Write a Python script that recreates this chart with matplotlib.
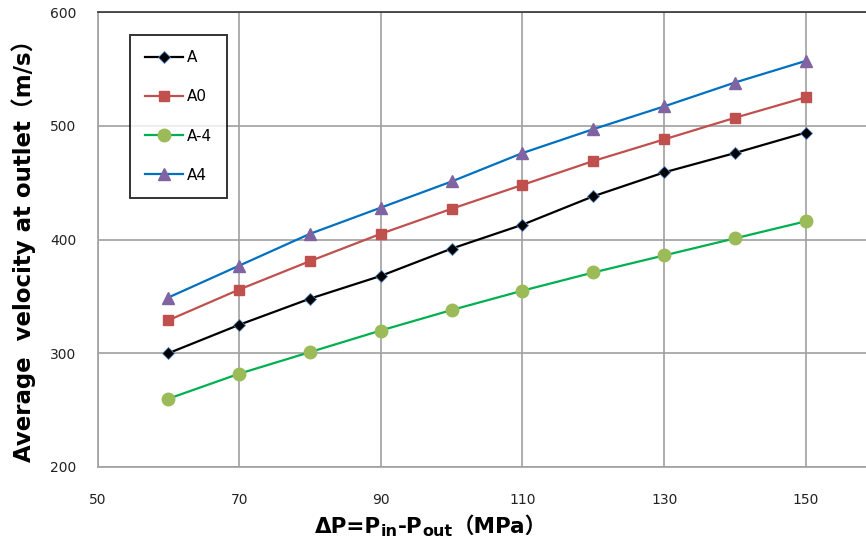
import matplotlib
matplotlib.use("Agg")
import matplotlib.pyplot as plt

pressure = [60, 70, 80, 90, 100, 110, 120, 130, 140, 150]
vel_A = [300, 325, 348, 368, 392, 413, 438, 459, 476, 494]
vel_A0 = [329, 356, 381, 405, 427, 448, 469, 488, 507, 525]
vel_Am4 = [260, 282, 301, 320, 338, 355, 371, 386, 401, 416]
vel_A4 = [349, 377, 405, 428, 451, 476, 497, 517, 538, 557]
labels = ["A", "A0", "A-4", "A4"]
xticks = [50, 70, 90, 110, 130, 150]
yticks = [200, 300, 400, 500, 600]

FAM = ["DejaVu Sans", "Noto Sans CJK SC"]
plt.rcParams["font.family"] = FAM

fig = plt.figure(figsize=(8.66, 5.42), dpi=100)
ax = fig.add_axes([97.5 / 866, 1 - 467 / 542, 1 - 97.5 / 866 + 0.001, (467 - 12) / 542])

ax.plot(pressure, vel_A, color="black", lw=1.6, marker="D", ms=6,
        mfc="black", mec="#4F81BD", mew=0.6, label=labels[0], zorder=4)
ax.plot(pressure, vel_A0, color="#C0504D", lw=1.6, marker="s", ms=7.5,
        mfc="#C0504D", mec="#C0504D", label=labels[1], zorder=4)
ax.plot(pressure, vel_Am4, color="#00B050", lw=1.6, marker="o", ms=9,
        mfc="#9BBB59", mec="#9BBB59", label=labels[2], zorder=4)
ax.plot(pressure, vel_A4, color="#0070C0", lw=1.6, marker="^", ms=9,
        mfc="#8064A2", mec="#8064A2", label=labels[3], zorder=4)

ax.set_xlim(50, 50 + (866 - 97.5) / 7.075)
ax.set_ylim(200, 600)
ax.set_xticks(xticks)
ax.set_yticks(yticks)
ax.grid(True, color="#A0A0A0", lw=1.2)
ax.set_axisbelow(True)
ax.tick_params(length=0, labelsize=10, colors="#222222")
ax.tick_params(axis="x", pad=19)
ax.tick_params(axis="y", pad=15)
for s in ["left", "bottom"]:
    ax.spines[s].set_color("#A0A0A0")
    ax.spines[s].set_linewidth(1.2)
ax.spines["right"].set_visible(False)
ax.spines["top"].set_color("#333333")
ax.spines["top"].set_linewidth(1.2)

ax_w_px = ax.get_position().width * 866
ax.set_ylabel("Average  velocity at outlet（m/s）", fontsize=16.5, fontweight="bold")
ax.yaxis.set_label_coords((36 - 97.5) / ax_w_px, (467 - 245) / 455)

# x label with subscripts as separate text pieces
pieces = [("ΔP=P", 15.5, 0), ("in", 11.5, -2.5), ("-P", 15.5, 0), ("out", 11.5, -2.5), ("（MPa）", 15.5, 0)]
renderer = fig.canvas.get_renderer()
texts = []
total = 0
for s, fs, dy in pieces:
    t = fig.text(0, 0, s, fontsize=fs, fontweight="bold", family=FAM, va="baseline")
    w = t.get_window_extent(renderer=renderer).width
    texts.append((t, w, dy))
    total += w
x0 = 431 - total / 2
base_y = 542 - 533
for t, w, dy in texts:
    t.set_position((x0 / 866, (base_y + dy) / 542))
    x0 += w

leg = ax.legend(loc="upper left", bbox_to_anchor=(130 / 866, 1 - 35 / 542),
                bbox_transform=fig.transFigure, fontsize=11, frameon=True,
                fancybox=False, edgecolor="black", borderpad=1.0,
                labelspacing=1.58, handlelength=2.5, handletextpad=0.2,
                borderaxespad=0)
leg.get_frame().set_linewidth(1.4)

fig.savefig("out.png", dpi=100)
